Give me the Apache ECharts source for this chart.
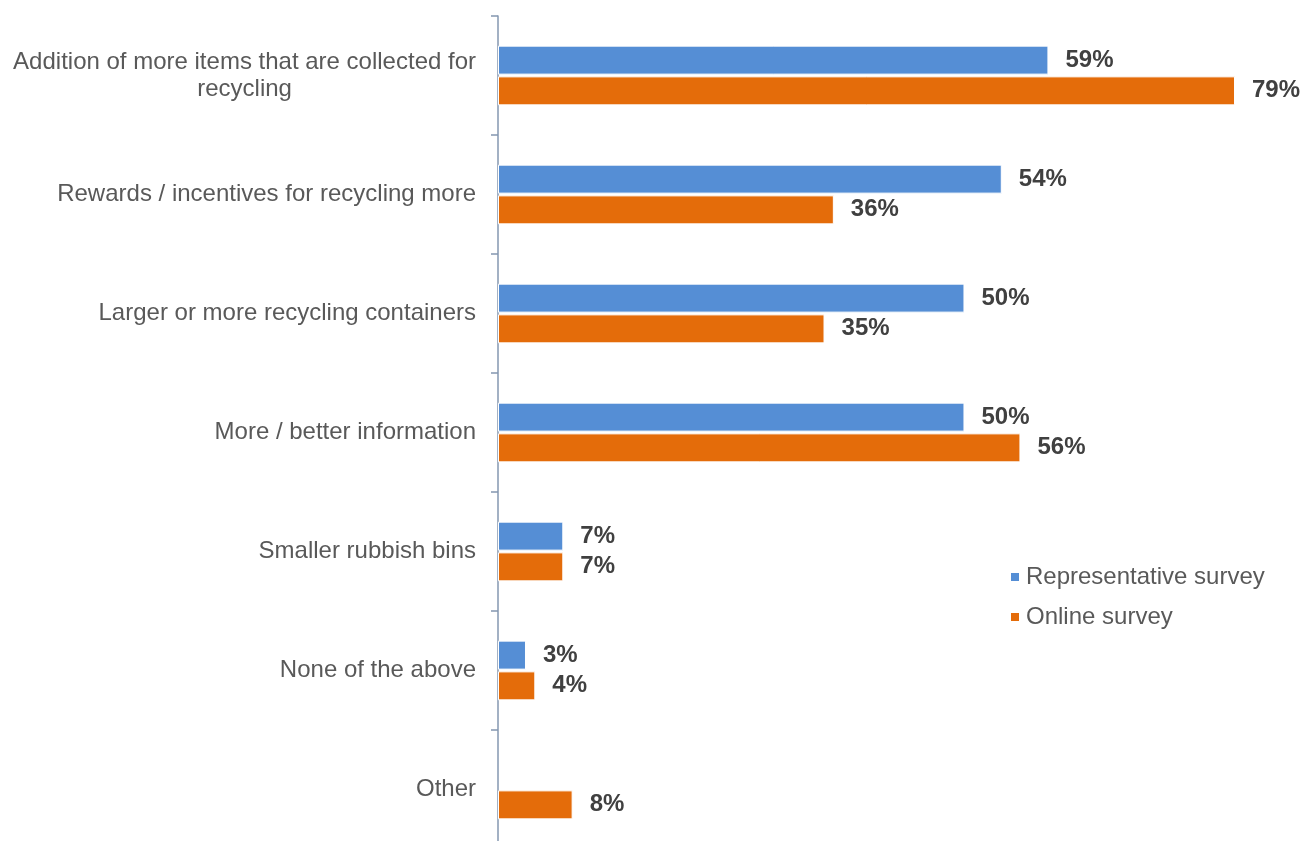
<!DOCTYPE html>
<html>
<head>
<meta charset="utf-8">
<script src="https://cdn.jsdelivr.net/npm/echarts@6/dist/echarts.min.js"></script>
<style>
  html, body { margin: 0; padding: 0; background: #fff; }
  #chart { width: 1303px; height: 841px; }
</style>
</head>
<body>
<div id="chart"></div>
<script>
// categories, top to bottom
const categories = [
  "Addition of more items that are collected for\nrecycling",
  "Rewards / incentives for recycling more",
  "Larger or more recycling containers",
  "More / better information",
  "Smaller rubbish bins",
  "None of the above",
  "Other"
];
const representative = [59, 54, 50, 50, 7, 3, null];
const online = [79, 36, 35, 56, 7, 4, 8];
const seriesNames = ["Representative survey", "Online survey"];
const colors = ["#558ed5", "#e46c0a"];

const FONT = "Liberation Sans, Arial, sans-serif";
const chart = echarts.init(document.getElementById("chart"));

const labelStyle = {
  show: true,
  position: "right",
  distance: 17,
  formatter: (p) => p.value + "%",
  fontFamily: FONT,
  fontSize: 24,
  fontWeight: "bold",
  color: "#404040"
};

chart.setOption({
  animation: false,
  backgroundColor: "#ffffff",
  // plot band runs a little past the bottom edge, like the original
  grid: { left: 498, top: 16, width: 793, height: 833, outerBoundsMode: "none" },
  legend: {
    orient: "vertical",
    left: 1004,
    top: 560,
    itemWidth: 10,
    itemHeight: 10,
    itemGap: 16,
    icon: "rect",
    data: seriesNames,
    textStyle: {
      fontFamily: FONT,
      fontSize: 24,
      color: "#595959",
      padding: [0, 0, 0, 1]
    }
  },
  xAxis: {
    type: "value",
    min: 0,
    max: 85,
    show: false
  },
  yAxis: {
    type: "category",
    inverse: true,
    data: categories,
    axisLine: { show: true, lineStyle: { color: "#8497b0", width: 1.5 } },
    axisTick: { show: true, length: 7, lineStyle: { color: "#8497b0", width: 1.5 } },
    axisLabel: {
      margin: 22,
      color: "#595959",
      align: "right",
      formatter: (v) => v.split("\n").map((s) => "{c|" + s + "}").join("\n"),
      rich: {
        c: {
          fontFamily: FONT,
          fontSize: 24,
          lineHeight: 27,
          color: "#595959",
          align: "center"
        }
      }
    }
  },
  series: [
    {
      name: seriesNames[0],
      type: "bar",
      data: representative,
      barWidth: 29,
      barGap: "6%",
      itemStyle: { color: colors[0], borderColor: "#ffffff", borderWidth: 1 },
      label: labelStyle
    },
    {
      name: seriesNames[1],
      type: "bar",
      data: online,
      barWidth: 29,
      itemStyle: { color: colors[1], borderColor: "#ffffff", borderWidth: 1 },
      label: labelStyle
    }
  ]
});
</script>
</body>
</html>
